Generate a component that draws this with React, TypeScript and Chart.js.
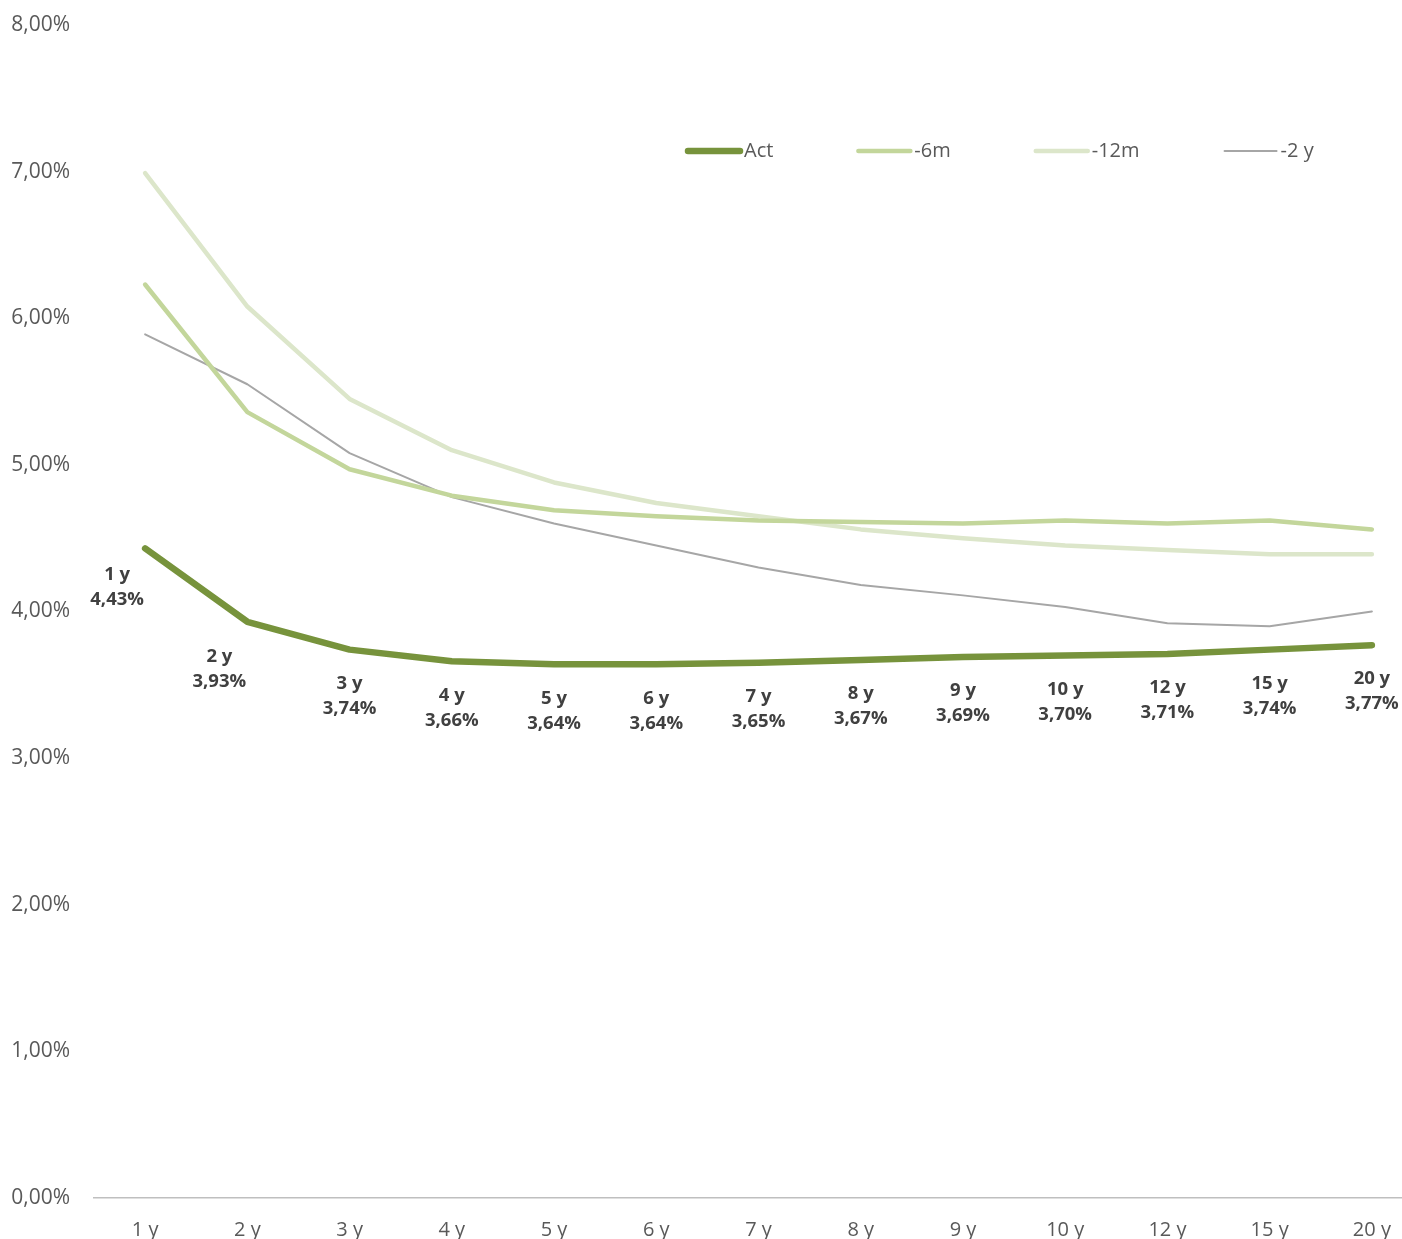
import React, { useEffect, useRef } from "react";
import { Chart, registerables } from "chart.js";

Chart.register(...registerables);

const categories = ["1 y", "2 y", "3 y", "4 y", "5 y", "6 y", "7 y", "8 y", "9 y", "10 y", "12 y", "15 y", "20 y"];
const actValues = [4.43, 3.93, 3.74, 3.66, 3.64, 3.64, 3.65, 3.67, 3.69, 3.7, 3.71, 3.74, 3.77];
const m6Values = [6.23, 5.36, 4.97, 4.79, 4.69, 4.65, 4.62, 4.61, 4.6, 4.62, 4.6, 4.62, 4.56];
const m12Values = [6.99, 6.08, 5.45, 5.1, 4.88, 4.74, 4.65, 4.56, 4.5, 4.45, 4.42, 4.39, 4.39];
const y2Values = [5.89, 5.55, 5.08, 4.78, 4.6, 4.45, 4.3, 4.18, 4.11, 4.03, 3.92, 3.9, 4.0];
const seriesNames = ["Act", "-6m", "-12m", "-2 y"];
const yTicks = [0, 1, 2, 3, 4, 5, 6, 7, 8];

const FONT = "'Open Sans', 'DejaVu Sans', sans-serif";
const fmtPct = (v: number) => v.toFixed(2).replace(".", ",") + "%";

const labelPlugin = {
  id: "actLabels",
  afterDatasetsDraw(chart: any) {
    const meta = chart.getDatasetMeta(0);
    const ctx = chart.ctx;
    ctx.save();
    ctx.font = `bold 18.5px ${FONT}`;
    ctx.fillStyle = "#404040";
    ctx.textAlign = "center";
    ctx.textBaseline = "middle";
    meta.data.forEach((el: any, i: number) => {
      let dx = 0;
      let dy = 34;
      if (i === 0) { dx = -28; dy = 26; }
      if (i === 1) { dx = -28; dy = 35; }
      ctx.fillText(categories[i], el.x + dx, el.y + dy);
      ctx.fillText(fmtPct(actValues[i]), el.x + dx, el.y + dy + 25);
    });
    ctx.restore();
  },
};

const legendPlugin = {
  id: "customLegend",
  afterDraw(chart: any) {
    const ctx = chart.ctx;
    ctx.save();
    ctx.font = `20px ${FONT}`;
    ctx.textBaseline = "middle";
    ctx.textAlign = "left";
    let x = 685;
    const y = 151;
    chart.data.datasets.forEach((ds: any) => {
      ctx.strokeStyle = ds.borderColor;
      ctx.lineWidth = ds.borderWidth;
      ctx.lineCap = "round";
      ctx.beginPath();
      ctx.moveTo(x + 3, y);
      ctx.lineTo(x + 55, y);
      ctx.stroke();
      ctx.fillStyle = "#595959";
      ctx.fillText(ds.label, x + 59, y);
      x += 59 + ctx.measureText(ds.label).width + 82;
    });
    ctx.restore();
  },
};

export default function App() {
  const ref = useRef<HTMLCanvasElement | null>(null);
  useEffect(() => {
    document.body.style.margin = "0";
    if (!ref.current) return;
    const chart = new Chart(ref.current, {
      type: "line",
      data: {
        labels: categories,
        datasets: [
          { label: seriesNames[0], data: actValues, borderColor: "#77933C", borderWidth: 6.5 },
          { label: seriesNames[1], data: m6Values, borderColor: "#C3D69B", borderWidth: 4.5 },
          { label: seriesNames[2], data: m12Values, borderColor: "#DCE6CA", borderWidth: 4.5 },
          { label: seriesNames[3], data: y2Values, borderColor: "#A6A6A6", borderWidth: 2 },
        ].map((d) => ({
          ...d,
          pointRadius: 0,
          pointHoverRadius: 0,
          tension: 0,
          fill: false,
          borderCapStyle: "round" as const,
          borderJoinStyle: "round" as const,
        })),
      },
      options: {
        animation: false,
        responsive: true,
        maintainAspectRatio: false,
        layout: { padding: { top: 0, right: 0, left: 0, bottom: 0 } },
        plugins: { legend: { display: false }, tooltip: { enabled: false } },
        scales: {
          x: {
            offset: true,
            grid: { display: false, drawTicks: false },
            border: { display: true, color: "#BFBFBF", width: 1.5 },
            ticks: { color: "#595959", font: { family: FONT, size: 20 }, padding: 20, maxRotation: 0, autoSkip: false },
            afterFit: (s: any) => { s.height = 41; },
          },
          y: {
            min: 0,
            max: 8,
            grid: { display: false, drawTicks: false },
            border: { display: false },
            afterBuildTicks: (s: any) => { s.ticks = yTicks.map((v) => ({ value: v })); },
            ticks: {
              color: "#595959",
              font: { family: FONT, size: 21 },
              padding: 24,
              callback: (v: any) => fmtPct(Number(v)),
            },
            afterFit: (s: any) => {
              s.width = 94;
              s.paddingTop = 25;
              s.paddingBottom = 0;
            },
          },
        },
      },
      plugins: [labelPlugin, legendPlugin],
    });
    return () => chart.destroy();
  }, []);
  return (
    <div style={{ width: 1402, height: 1239, overflow: "hidden", background: "#fff" }}>
      <div style={{ width: 1423, height: 1239, position: "relative" }}>
        <canvas ref={ref} />
      </div>
    </div>
  );
}
